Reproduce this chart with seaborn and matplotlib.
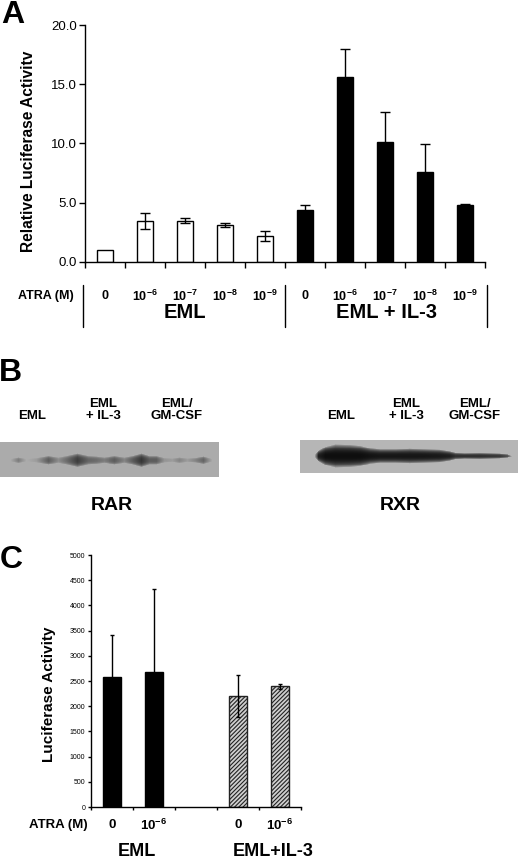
import numpy as np
import pandas as pd
import matplotlib
matplotlib.use('Agg')
import matplotlib.pyplot as plt
import matplotlib.transforms as mtransforms
from matplotlib.colors import LinearSegmentedColormap
import seaborn as sns

# --- 1. DATA ---
# Panel A: relative luciferase activity
a_group = ['EML'] * 5 + ['EML + IL-3'] * 5
a_atra = ['0', '10-6', '10-7', '10-8', '10-9'] * 2
a_value = [1.0, 3.45, 3.5, 3.1, 2.2, 4.4, 15.6, 10.15, 7.6, 4.8]
a_err = [0.0, 0.7, 0.24, 0.17, 0.45, 0.4, 2.4, 2.55, 2.35, 0.12]
a_ticklabels = ['0', r'$\mathbf{10^{-6}}$', r'$\mathbf{10^{-7}}$', r'$\mathbf{10^{-8}}$', r'$\mathbf{10^{-9}}$'] * 2

# Panel B: western blot lane profiles (position along blot, darkness, band thickness)
rar_pos = [0, 10, 18, 26, 36, 48, 58, 66, 77, 88, 96, 104, 115, 125, 133, 142, 150, 157, 165, 173, 180, 188, 196, 204, 213, 219]
rar_dark = [0, 0, .3, 0, .1, .5, .2, .4, .7, .45, .4, .3, .5, .25, .5, .75, .5, .5, .15, .1, .25, .1, .25, .45, 0, 0]
rar_thick = [0, 3, 6, 3, 5, 9, 6, 9, 14, 9, 8, 6, 9, 6, 9, 14, 9, 9, 5, 4, 6, 4, 5, 8, 3, 0]
rxr_pos = [0, 14, 18, 25, 35, 50, 60, 70, 80, 95, 110, 125, 140, 150, 156, 165, 180, 200, 208, 213, 218]
rxr_dark = [0, 0, .9, 1, 1, 1, 1, .97, .95, .95, .95, .95, .93, .9, .8, .8, .8, .75, .6, 0, 0]
rxr_thick = [0, 3, 11, 19, 24, 23, 21, 16, 14, 14, 15, 14, 13, 10, 7, 6, 6.5, 5.5, 4, 0, 0]
blot_lanes = ['EML', 'EML\n+ IL-3', 'EML/\nGM-CSF']

# Panel C: luciferase activity
c_group = ['EML', 'EML', 'EML+IL-3', 'EML+IL-3']
c_atra = ['0', '10-6', '0', '10-6']
c_value = [2570, 2680, 2200, 2400]
c_err = [850, 1640, 420, 50]
c_ticklabels = ['0', r'$\mathbf{10^{-6}}$', '0', r'$\mathbf{10^{-6}}$']

# --- 2. STYLE ---
sns.set_style('ticks')
plt.rcParams['font.family'] = ['Liberation Sans', 'DejaVu Sans']
plt.rcParams['mathtext.fontset'] = 'custom'
plt.rcParams['mathtext.bf'] = 'Liberation Sans:bold'
plt.rcParams['mathtext.rm'] = 'Liberation Sans'
plt.rcParams['hatch.linewidth'] = 0.8
plt.rcParams['axes.linewidth'] = 1.0
for k in ['text.color', 'axes.labelcolor', 'xtick.color', 'ytick.color', 'axes.edgecolor']:
    plt.rcParams[k] = 'black'

W, H = 520, 860
fig = plt.figure(figsize=(W / 100, H / 100), dpi=100)


def box(x0, y0, x1, y1):
    return [x0 / W, 1 - y1 / H, (x1 - x0) / W, (y1 - y0) / H]


def ftext(x, y, s, size, **kw):
    fig.text(x / W, 1 - y / H, s, fontsize=size, fontweight='bold', ha='center', va='center', **kw)


# --- 3. PANEL A ---
df_a = pd.DataFrame({'group': a_group, 'atra': a_atra, 'value': a_value, 'err': a_err})
df_a['cond'] = df_a['group'] + ' ' + df_a['atra']
ax_a = fig.add_axes(box(85, 25, 485, 262))
sns.barplot(data=df_a, x='cond', y='value', hue='group', order=list(df_a['cond']),
            palette={'EML': 'white', 'EML + IL-3': 'black'}, dodge=False, width=0.42,
            saturation=1, edgecolor='black', linewidth=1, errorbar=None, legend=False, ax=ax_a)
xa = np.arange(len(df_a))
m = df_a['err'].values > 0
ax_a.errorbar(xa[m], df_a['value'].values[m], yerr=df_a['err'].values[m], fmt='none',
              ecolor='black', elinewidth=1, capsize=3.6, capthick=1)
ax_a.set_xlim(-0.5, 9.5)
ax_a.set_ylim(0, 20)
ax_a.set_yticks([0, 5, 10, 15, 20])
ax_a.set_yticklabels([f'{v:.1f}' for v in [0, 5, 10, 15, 20]], fontsize=9.5)
ax_a.set_xticks(xa)
ax_a.set_xticklabels([])
ax_a.set_xticks(np.arange(-0.5, 10, 1), minor=True)
ax_a.tick_params(axis='x', which='major', length=0)
ax_a.tick_params(axis='x', which='minor', length=4, width=1, direction='out')
ax_a.tick_params(axis='y', length=4, width=1, direction='out', pad=2)
ax_a.set_xlabel('')
ax_a.set_ylabel('')
sns.despine(ax=ax_a)

blend_a = mtransforms.blended_transform_factory(ax_a.transData, fig.transFigure)
for i, lab in enumerate(a_ticklabels):
    ax_a.text(i, 1 - 296 / H, lab, transform=blend_a, fontsize=9, fontweight='bold', ha='center', va='center')
for xs in [-0.55, 4.5, 9.55]:
    ax_a.plot([xs, xs], [1 - 285 / H, 1 - 327 / H], transform=blend_a, clip_on=False, color='black', lw=1)
ax_a.text(2.0, 1 - 313 / H, 'EML', transform=blend_a, fontsize=14.5, fontweight='bold', ha='center', va='center')
ax_a.text(7.05, 1 - 313 / H, 'EML + IL-3', transform=blend_a, fontsize=14.5, fontweight='bold', ha='center', va='center')
ftext(46, 296, 'ATRA (M)', 9)
ftext(29, 151, 'Relative Luciferase Activitv', 11.2, rotation=90)
ftext(13, 15, 'A', 23)


# --- 4. PANEL B (blots) ---
def draw_blot(rect, pos, dark, thick, center, height, bg):
    ax = fig.add_axes(rect)
    cols = np.arange(int(pos[-1]) + 1)
    d = np.interp(cols, pos, dark)
    t = np.interp(cols, pos, thick) / 2 + 1e-6
    rows = np.linspace(0, height, 70)
    prof = np.clip(1 - np.abs((rows[:, None] - center) / t[None, :]) ** 2.5, 0, 1) ** 0.8
    img = d[None, :] * prof
    cmap = LinearSegmentedColormap.from_list('blot', [bg, '#0e0e0e'])
    sns.heatmap(img, cmap=cmap, vmin=0, vmax=1, cbar=False, xticklabels=False, yticklabels=False, ax=ax)
    ax.set_axis_off()
    return ax


draw_blot(box(0, 442, 219, 477), rar_pos, rar_dark, rar_thick, 18, 35, '#ababab')
draw_blot(box(300, 440, 518, 473), rxr_pos, rxr_dark, rxr_thick, 16, 33, '#b6b6b6')
for x, lab in zip([32, 103, 177], blot_lanes):
    fig.text(x / W, 1 - 422 / H, lab, fontsize=9.5, fontweight='bold', ha='center', va='bottom', linespacing=1.05)
for x, lab in zip([341, 406, 475], blot_lanes):
    fig.text(x / W, 1 - 422 / H, lab, fontsize=9.5, fontweight='bold', ha='center', va='bottom', linespacing=1.05)
ftext(112, 505, 'RAR', 14)
ftext(400, 505, 'RXR', 14)
ftext(10, 373, 'B', 23)

# --- 5. PANEL C ---
df_c = pd.DataFrame({'group': c_group, 'atra': c_atra, 'value': c_value, 'err': c_err})
df_c['cond'] = df_c['group'] + ' ' + df_c['atra']
c_order = list(df_c['cond'][:2]) + ['gap'] + list(df_c['cond'][2:])
ax_c = fig.add_axes(box(91, 555, 301, 807))
sns.barplot(data=df_c, x='cond', y='value', hue='group', order=c_order,
            palette={'EML': 'black', 'EML+IL-3': '#cfcfcf'}, dodge=False, width=0.41,
            saturation=1, edgecolor='black', linewidth=1, errorbar=None, legend=False, ax=ax_c)
for bar in ax_c.containers[1]:
    bar.set_hatch('////////')
    bar.set_edgecolor('#222222')
xc = np.array([0, 1, 3, 4])
ax_c.errorbar(xc, df_c['value'], yerr=df_c['err'], fmt='none', ecolor='black',
              elinewidth=1, capsize=1.6, capthick=1)
ax_c.set_xlim(-0.5, 4.5)
ax_c.set_ylim(0, 5000)
ax_c.set_yticks(np.arange(0, 5001, 500))
ax_c.set_yticklabels([str(v) for v in range(0, 5001, 500)], fontsize=5)
ax_c.set_xticks(np.arange(5))
ax_c.set_xticklabels([])
ax_c.set_xticks(np.arange(-0.5, 5, 1), minor=True)
ax_c.tick_params(axis='x', which='major', length=0)
ax_c.tick_params(axis='x', which='minor', length=2, width=1, direction='out')
ax_c.tick_params(axis='y', length=2, width=1, direction='out', pad=2)
ax_c.set_xlabel('')
ax_c.set_ylabel('')
sns.despine(ax=ax_c)

blend_c = mtransforms.blended_transform_factory(ax_c.transData, fig.transFigure)
for x, lab in zip(xc, c_ticklabels):
    ax_c.text(x, 1 - 825 / H, lab, transform=blend_c, fontsize=9.5, fontweight='bold', ha='center', va='center')
ftext(58, 825, 'ATRA (M)', 9.5)
ftext(137, 852, 'EML', 13)
ftext(273, 852, 'EML+IL-3', 13)
ftext(49, 694, 'Luciferase Activity', 11, rotation=90)
ftext(11, 560, 'C', 23)

fig.savefig('out.png', dpi=100)
